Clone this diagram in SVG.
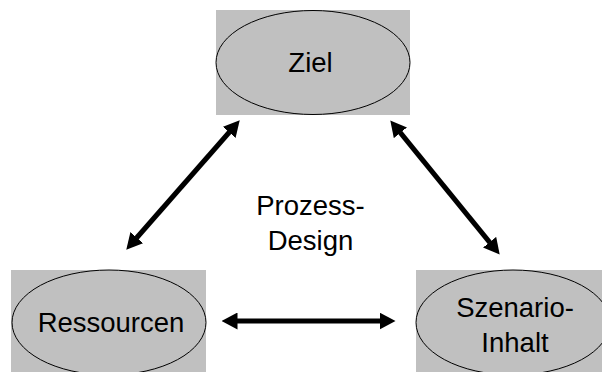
<svg xmlns="http://www.w3.org/2000/svg" width="602" height="372" viewBox="0 0 602 372">
  <style>
    .box { fill: #c0c0c0; stroke: none; }
    .oval { fill: #c0c0c0; stroke: #000000; stroke-width: 1; }
    .label { font-family: "Liberation Sans", Arial, sans-serif; font-size: 27.5px; fill: #000000; text-anchor: middle; }
    .link { stroke: #000000; stroke-width: 5; fill: none; marker-start: url(#head); marker-end: url(#head); }
  </style>
  <defs>
    <marker id="head" viewBox="0 -8.5 16 17" markerUnits="userSpaceOnUse" markerWidth="16" markerHeight="17" refX="0.5" refY="0" orient="auto-start-reverse">
      <path d="M0,-8.5 L16,0 L0,8.5 z" fill="#000000"/>
    </marker>
  </defs>
  <rect width="602" height="372" fill="#ffffff"/>

  <g id="ziel">
    <rect class="box" x="216" y="10" width="194" height="105"/>
    <ellipse class="oval" cx="313" cy="62.5" rx="97" ry="52"/>
    <text class="label" x="310.5" y="72">Ziel</text>
  </g>

  <g id="ressourcen">
    <rect class="box" x="11" y="270" width="195" height="102"/>
    <ellipse class="oval" cx="109" cy="322.5" rx="97" ry="52.5"/>
    <text class="label" x="111" y="332">Ressourcen</text>
  </g>

  <g id="szenario-inhalt">
    <rect class="box" x="416" y="270" width="186" height="102"/>
    <ellipse class="oval" cx="513" cy="322.5" rx="97" ry="52.5"/>
    <text class="label" x="515" y="317">Szenario-</text>
    <text class="label" x="515" y="352">Inhalt</text>
  </g>

  <g id="prozess-design">
    <text class="label" x="310.5" y="215">Prozess-</text>
    <text class="label" x="310.5" y="250">Design</text>
  </g>

  <g id="connectors">
    <line class="link" x1="136.5" y1="238" x2="229.5" y2="132"/>
    <line class="link" x1="400.1" y1="132.4" x2="489.9" y2="242.6"/>
    <line class="link" x1="237" y1="321" x2="380" y2="321"/>
  </g>
</svg>
